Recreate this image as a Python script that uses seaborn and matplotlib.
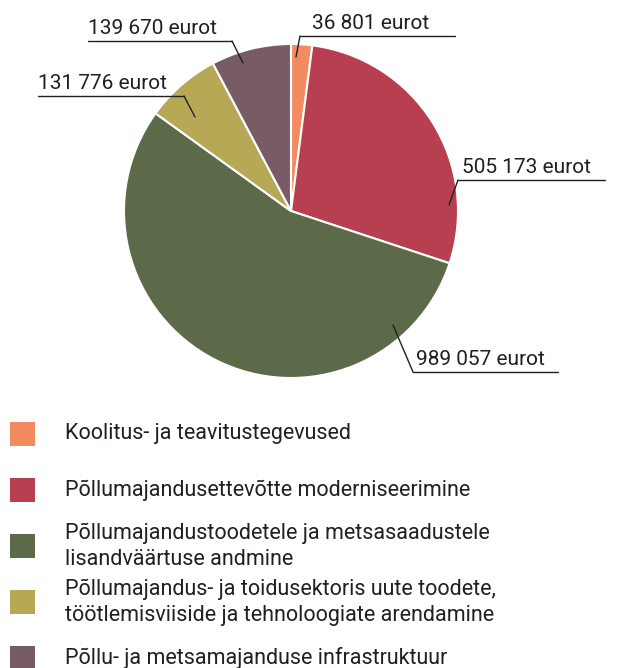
import matplotlib
matplotlib.use("Agg")
import matplotlib.pyplot as plt
import seaborn as sns
from matplotlib.patches import Rectangle

# Data
categories = [
    "Koolitus- ja teavitustegevused",
    "Põllumajandusettevõtte moderniseerimine",
    "Põllumajandustoodetele ja metsasaadustele\nlisandväärtuse andmine",
    "Põllumajandus- ja toidusektoris uute toodete,\ntöötlemisviiside ja tehnoloogiate arendamine",
    "Põllu- ja metsamajanduse infrastruktuur",
]
values = [36801, 505173, 989057, 131776, 139670]
value_labels = ["36 801 eurot", "505 173 eurot", "989 057 eurot", "131 776 eurot", "139 670 eurot"]
colors = ["#F28B60", "#B83F50", "#5D6A4A", "#B6A855", "#775C66"]

sns.set_theme(style="white")
plt.rcParams["font.family"] = ["Roboto", "DejaVu Sans"]
text_color = "#231F20"

W, H = 619, 668
fig = plt.figure(figsize=(W / 100, H / 100), dpi=100)
ax = fig.add_axes([0, 0, 1, 1])

def Y(py):
    # pixel row (from top) -> data y
    return H - py

ax.pie(values, colors=colors, startangle=90, counterclock=False,
       center=(291, Y(211)), radius=167,
       wedgeprops=dict(edgecolor="white", linewidth=1.5))
ax.set_xlim(0, W)
ax.set_ylim(0, H)
ax.set_aspect("equal")
ax.axis("off")

# label text position (left, baseline) and leader: rule x span, rule y, tip point
label_layout = [
    dict(tx=312, ty=29, lx=(300, 455), ly=36, tip=(296, 57)),     # 36 801
    dict(tx=462, ty=173, lx=(458, 605), ly=180, tip=(449, 205)),  # 505 173
    dict(tx=416, ty=365, lx=(413, 558), ly=372, tip=(393, 325)),  # 989 057
    dict(tx=38, ty=89, lx=(38, 184), ly=96, tip=(195, 117)),      # 131 776
    dict(tx=88, ty=34, lx=(88, 232), ly=41, tip=(243, 63)),       # 139 670
]
for lab, lay in zip(value_labels, label_layout):
    ax.text(lay["tx"], Y(lay["ty"]), lab, fontsize=15, color=text_color,
            ha="left", va="baseline")
    x0, x1 = lay["lx"]
    # the leader starts at the end of the rule nearest to the pie
    near = x0 if abs(x0 - 291) < abs(x1 - 291) else x1
    ax.plot([x0, x1], [Y(lay["ly"])] * 2, color=text_color, lw=1)
    ax.plot([near, lay["tip"][0]], [Y(lay["ly"]), Y(lay["tip"][1])],
            color=text_color, lw=1)

# Legend
row_centers = [434, 490, 546, 602, 658]
for cat, col, cy in zip(categories, colors, row_centers):
    ax.add_patch(Rectangle((10, Y(cy + 12)), 25, 24, facecolor=col,
                           edgecolor="none", clip_on=False))
    ax.text(65, Y(cy), cat, fontsize=15.5, color=text_color, ha="left",
            va="center", linespacing=1.32)

fig.savefig("out.png", dpi=100)
